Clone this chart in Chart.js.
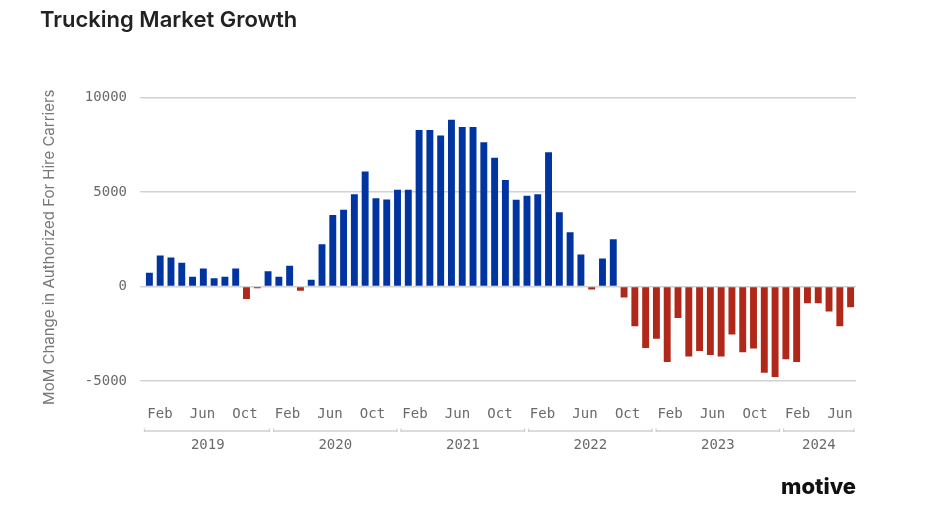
<!DOCTYPE html>
<html>
<head>
<meta charset="utf-8">
<script src="https://cdn.jsdelivr.net/npm/chart.js@4.4.0/dist/chart.umd.min.js"></script>
<style>
html,body{margin:0;padding:0;background:#fff;}
#wrap{width:936px;height:532px;position:relative;}
</style>
</head>
<body>
<div id="wrap"><canvas id="c"></canvas></div>
<script>
// ---- data ----
const monthNames = ['Jan','Feb','Mar','Apr','May','Jun','Jul','Aug','Sep','Oct','Nov','Dec'];
const years = [2019, 2020, 2021, 2022, 2023, 2024];
const values2019 = [730, 1640, 1530, 1250, 520, 945, 430, 520, 945, -665, -90, 800];
const values2020 = [520, 1100, -225, 360, 2230, 3780, 4060, 4880, 6080, 4670, 4600, 5120];
const values2021 = [5120, 8270, 8270, 7990, 8820, 8430, 8430, 7630, 6810, 5630, 4580, 4800];
const values2022 = [4880, 7100, 3920, 2870, 1690, -155, 1480, 2500, -590, -2100, -3260, -2770];
const values2023 = [-3990, -1670, -3710, -3415, -3620, -3710, -2545, -3485, -3280, -4560, -4790, -3850];
const values2024 = [-3990, -890, -890, -1320, -2100, -1095];
const values = [].concat(values2019, values2020, values2021, values2022, values2023, values2024);
const categories = values.map((v, i) => monthNames[i % 12] + ' ' + years[Math.floor(i / 12)]);

// time-axis tick labels (months since Jan 2019)
const tickMonths = [1, 5, 9, 13, 17, 21, 25, 29, 33, 37, 41, 45, 49, 53, 57, 61, 65];
const tickNames  = ['Feb','Jun','Oct','Feb','Jun','Oct','Feb','Jun','Oct','Feb','Jun','Oct','Feb','Jun','Oct','Feb','Jun'];
const yTicks = [-5000, 0, 5000, 10000];
const yTitle = 'MoM Change in Authorized For Hire Carriers';

const TIME_MIN = 0, TIME_MAX = 67;
const BLUE = '#0034A0', RED = '#B02819';
const TICK_FONT = {family: '"DejaVu Sans Mono", monospace', size: 14};
const TICK_COLOR = '#6a6a6a';

const decor = {
  id: 'decor',
  afterDraw(chart) {
    const ctx = chart.ctx;
    const s = chart.scales.xy;
    const y = s.top + 4;
    ctx.save();
    ctx.strokeStyle = '#cfcfcf';
    ctx.lineWidth = 1.3;
    years.forEach((yr, k) => {
      const a = Math.max(TIME_MIN, k * 12), b = Math.min(TIME_MAX, k * 12 + 12);
      const x1 = s.getPixelForValue(a) + (k > 0 ? 1.5 : 0);
      const x2 = s.getPixelForValue(b) - 1.5;
      ctx.beginPath();
      ctx.moveTo(x1, y); ctx.lineTo(x2, y);
      ctx.moveTo(x1 + 0.5, y - 2.5); ctx.lineTo(x1 + 0.5, y + 1);
      ctx.moveTo(x2 - 0.5, y - 2.5); ctx.lineTo(x2 - 0.5, y + 1);
      ctx.stroke();
    });
    // y-axis title (placed like the reference, slightly below the axis centre)
    const ys = chart.scales.y;
    ctx.save();
    ctx.translate(ys.left + 9, (ys.top + ys.bottom) / 2 + 8);
    ctx.rotate(-Math.PI / 2);
    ctx.fillStyle = '#777';
    ctx.font = '15px Inter, sans-serif';
    ctx.textAlign = 'center';
    ctx.textBaseline = 'middle';
    ctx.fillText(yTitle, 0, 0);
    ctx.restore();
    // logo
    ctx.fillStyle = '#111';
    ctx.font = '800 22px Inter, sans-serif';
    ctx.textAlign = 'right';
    ctx.textBaseline = 'alphabetic';
    ctx.fillText('motive', chart.chartArea.right, 494);
    ctx.restore();
  }
};

new Chart(document.getElementById('c'), {
  type: 'bar',
  data: {
    labels: categories,
    datasets: [{
      data: values,
      backgroundColor: ctx => (ctx.raw >= 0 ? BLUE : RED),
      borderWidth: 0,
      barPercentage: 0.64,
      categoryPercentage: 1.0,
      xAxisID: 'x',
      yAxisID: 'y'
    }]
  },
  options: {
    responsive: true,
    maintainAspectRatio: false,
    animation: false,
    layout: {padding: {left: 40, right: 80, top: 0, bottom: 75}},
    plugins: {
      legend: {display: false},
      tooltip: {enabled: false},
      title: {
        display: true,
        text: 'Trucking Market Growth',
        align: 'start',
        color: '#222',
        font: {family: 'Inter, sans-serif', size: 22, weight: '600'},
        padding: {top: 7, bottom: 64}
      }
    },
    scales: {
      x: {
        type: 'category',
        display: false,
        offset: true,
        grid: {display: false}
      },
      xm: {
        type: 'linear',
        position: 'bottom',
        weight: 1,
        offset: false,
        min: TIME_MIN,
        max: TIME_MAX,
        grid: {display: false, offset: false},
        border: {display: false},
        afterBuildTicks: s => { s.ticks = tickMonths.map(m => ({value: m + 0.5})); },
        afterFit: s => { s.height = 46; },
        ticks: {
          autoSkip: false, maxRotation: 0, minRotation: 0,
          padding: 17,
          font: TICK_FONT, color: TICK_COLOR,
          callback: (v, i) => tickNames[i]
        }
      },
      xy: {
        type: 'linear',
        position: 'bottom',
        weight: 2,
        offset: false,
        min: TIME_MIN,
        max: TIME_MAX,
        grid: {display: false, offset: false},
        border: {display: false},
        afterBuildTicks: s => {
          s.ticks = years.map((yr, k) => ({value: (Math.max(TIME_MIN, k * 12) + Math.min(TIME_MAX, k * 12 + 12)) / 2}));
        },
        afterFit: s => { s.height = 30; },
        ticks: {
          autoSkip: false, maxRotation: 0, minRotation: 0,
          padding: 2,
          font: TICK_FONT, color: TICK_COLOR,
          callback: (v, i) => String(years[i])
        }
      },
      y: {
        min: -5000,
        max: 10000,
        afterBuildTicks: s => { s.ticks = yTicks.map(v => ({value: v})); },
        afterFit: s => { s.width = 104; },
        grid: {color: '#d2d2d2', lineWidth: 1.4, tickLength: 4, drawTicks: true, tickColor: '#d2d2d2'},
        border: {display: false},
        ticks: {
          padding: 13,
          font: TICK_FONT, color: TICK_COLOR,
          callback: v => String(v)
        },
        title: {display: false}
      }
    }
  },
  plugins: [decor]
});
</script>
</body>
</html>
